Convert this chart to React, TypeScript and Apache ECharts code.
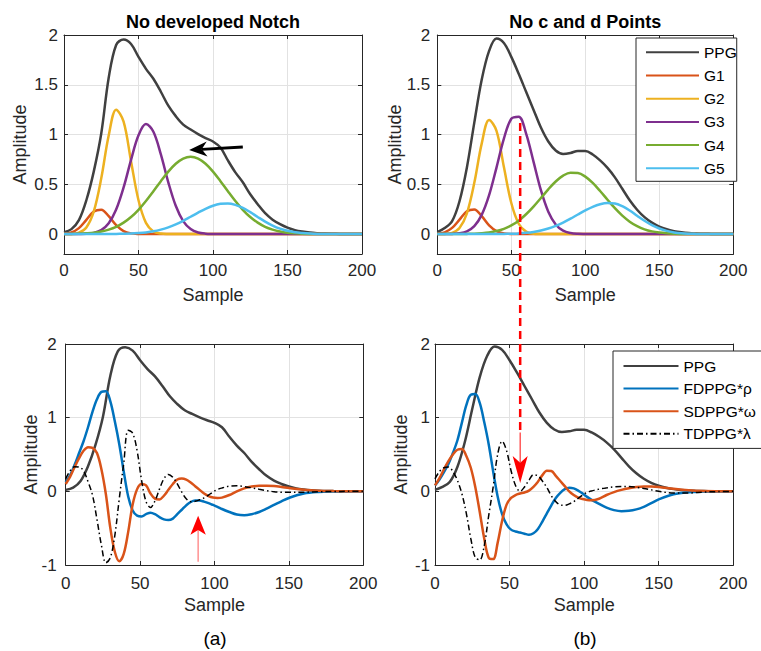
import React, { useEffect, useRef } from "react";
import * as echarts from "echarts";

// Sample positions
const XS = [0,5,10,15,20,25,30,35,40,45,50,55,60,65,70,75,80,85,90,95,100,105,110,115,120,125,130,135,140,145,150,155,160,165,170,175,180,185,190,195,200];
const XD = [0,3,6,9,12,15,18,21,24,27,30,33,36,39,42,45,48,51,54,57,60,63,66,69,72,75,78,81,84,87,90,93,96,99,102,105,110,115,120,125,130,135,140,145,150,160,170,180,190,200];

// (a) No developed notch: PPG and Gaussian components (on XS)
const PPG_A = [0.02,0.05,0.14,0.34,0.63,1.01,1.57,1.9,1.955,1.91,1.78,1.66,1.56,1.43,1.29,1.185,1.10,1.05,1.005,0.965,0.93,0.87,0.74,0.62,0.52,0.40,0.30,0.21,0.145,0.10,0.065,0.04,0.025,0.015,0.009,0.005,0.003,0.002,0.001,0,0];
const G1_A = [0.003,0.017,0.06,0.143,0.227,0.245,0.18,0.089,0.03,0.007,0.001,0,0,0,0,0,0,0,0,0,0,0,0,0,0,0,0,0,0,0,0,0,0,0,0,0,0,0,0,0,0];
const G2_A = [0,0.002,0.014,0.067,0.228,0.56,0.99,1.25,1.13,0.73,0.34,0.113,0.027,0.005,0.001,0,0,0,0,0,0,0,0,0,0,0,0,0,0,0,0,0,0,0,0,0,0,0,0,0,0];
const G3_A = [0,0,0.001,0.003,0.012,0.04,0.109,0.247,0.469,0.746,0.992,1.105,1.028,0.80,0.52,0.284,0.13,0.05,0.016,0.004,0.001,0,0,0,0,0,0,0,0,0,0,0,0,0,0,0,0,0,0,0,0];
const G4_A = [0.001,0.002,0.004,0.008,0.014,0.026,0.045,0.073,0.115,0.171,0.244,0.332,0.43,0.532,0.628,0.707,0.759,0.777,0.759,0.707,0.628,0.532,0.43,0.332,0.244,0.171,0.115,0.073,0.045,0.026,0.014,0.008,0.004,0.002,0.001,0,0,0,0,0,0];
const G5_A = [0,0,0,0,0,0,0.001,0.002,0.003,0.005,0.01,0.017,0.028,0.045,0.068,0.097,0.133,0.174,0.215,0.254,0.285,0.304,0.308,0.294,0.263,0.22,0.172,0.126,0.086,0.055,0.033,0.018,0.01,0.005,0.002,0.001,0,0,0,0,0];

// (b) No c and d points (on XS)
const PPG_B = [0.02,0.06,0.13,0.33,0.67,1.12,1.55,1.84,1.965,1.92,1.78,1.61,1.43,1.25,1.07,0.93,0.84,0.805,0.815,0.835,0.835,0.80,0.74,0.665,0.57,0.455,0.34,0.245,0.17,0.115,0.075,0.048,0.03,0.018,0.01,0.006,0.003,0.002,0.001,0,0];
const G1_B = [0.003,0.018,0.062,0.145,0.23,0.248,0.18,0.088,0.03,0.007,0.001,0,0,0,0,0,0,0,0,0,0,0,0,0,0,0,0,0,0,0,0,0,0,0,0,0,0,0,0,0,0];
const G2_B = [0,0.002,0.013,0.061,0.209,0.515,0.909,1.147,1.038,0.673,0.312,0.104,0.025,0.004,0.001,0,0,0,0,0,0,0,0,0,0,0,0,0,0,0,0,0,0,0,0,0,0,0,0,0,0];
const G3_B = [0,0,0.002,0.008,0.028,0.08,0.193,0.391,0.668,0.959,1.159,1.18,1.01,0.728,0.441,0.225,0.097,0.035,0.011,0.003,0.001,0,0,0,0,0,0,0,0,0,0,0,0,0,0,0,0,0,0,0,0];
const G4_B = [0,0,0,0.001,0.002,0.004,0.009,0.017,0.031,0.053,0.087,0.135,0.199,0.276,0.362,0.45,0.528,0.587,0.617,0.614,0.577,0.514,0.433,0.345,0.26,0.185,0.125,0.08,0.048,0.027,0.015,0.008,0.004,0.002,0.001,0,0,0,0,0,0];
const G5_B = [0,0,0,0,0,0,0,0,0.001,0.002,0.004,0.007,0.013,0.022,0.036,0.056,0.083,0.116,0.155,0.197,0.238,0.274,0.3,0.312,0.308,0.28,0.237,0.185,0.134,0.09,0.056,0.032,0.017,0.008,0.004,0.002,0,0,0,0,0];

// Derivatives (on XD)
const FD_A = [0.12,0.22,0.36,0.52,0.68,0.87,1.08,1.25,1.35,1.36,1.22,0.95,0.64,0.27,-0.07,-0.26,-0.33,-0.34,-0.31,-0.29,-0.31,-0.35,-0.38,-0.39,-0.37,-0.31,-0.25,-0.19,-0.145,-0.125,-0.125,-0.14,-0.16,-0.185,-0.21,-0.24,-0.28,-0.315,-0.325,-0.31,-0.28,-0.235,-0.185,-0.135,-0.09,-0.03,-0.008,-0.002,0,0];
const SD_A = [0.1,0.2,0.33,0.45,0.55,0.6,0.59,0.52,0.3,-0.04,-0.5,-0.82,-0.95,-0.85,-0.55,-0.18,0.03,0.1,0.08,-0.03,-0.1,-0.11,-0.06,0.02,0.1,0.16,0.175,0.16,0.12,0.07,0.02,-0.03,-0.065,-0.085,-0.09,-0.085,-0.05,0.0,0.04,0.065,0.075,0.076,0.072,0.06,0.045,0.02,0.008,0.003,0.001,0];
const TD_A = [0.17,0.28,0.335,0.33,0.28,0.13,-0.05,-0.38,-0.73,-0.97,-0.9,-0.6,-0.1,0.38,0.83,0.79,0.55,0.15,-0.14,-0.22,-0.13,0.03,0.17,0.23,0.19,0.1,-0.01,-0.1,-0.14,-0.135,-0.115,-0.09,-0.05,-0.01,0.025,0.045,0.07,0.075,0.065,0.048,0.028,0.01,-0.005,-0.012,-0.014,-0.012,-0.006,-0.002,0,0];
const FD_B = [0.08,0.16,0.26,0.37,0.52,0.69,0.93,1.17,1.31,1.32,1.2,0.94,0.64,0.27,-0.07,-0.31,-0.45,-0.52,-0.545,-0.56,-0.575,-0.59,-0.57,-0.51,-0.41,-0.3,-0.19,-0.09,-0.02,0.03,0.05,0.04,0.01,-0.03,-0.075,-0.115,-0.17,-0.22,-0.255,-0.27,-0.265,-0.245,-0.21,-0.16,-0.11,-0.04,-0.012,-0.003,0,0];
const SD_B = [0.08,0.18,0.3,0.41,0.5,0.565,0.575,0.48,0.32,0.06,-0.28,-0.64,-0.9,-0.92,-0.7,-0.4,-0.18,-0.09,-0.05,-0.03,-0.015,0.01,0.06,0.13,0.22,0.28,0.275,0.21,0.14,0.07,0.0,-0.05,-0.085,-0.105,-0.118,-0.122,-0.1,-0.05,-0.01,0.02,0.042,0.058,0.066,0.066,0.06,0.034,0.014,0.004,0.001,0];
const TD_B = [0.17,0.27,0.32,0.33,0.27,0.15,-0.03,-0.3,-0.64,-0.9,-0.93,-0.74,-0.33,0.06,0.5,0.68,0.55,0.28,0.08,0.0,0.06,0.15,0.225,0.21,0.14,0.05,-0.06,-0.14,-0.185,-0.19,-0.17,-0.14,-0.095,-0.05,-0.015,0.005,0.03,0.047,0.06,0.067,0.065,0.055,0.04,0.02,0.0,-0.022,-0.022,-0.01,-0.003,0];

const X_TICKS = { min: 0, max: 200, interval: 50 };
const TITLES = ["No developed Notch", "No c and d Points"];
const PANEL_TAGS = ["(a)", "(b)"];
const LEGEND_TOP = ["PPG", "G1", "G2", "G3", "G4", "G5"];
const LEGEND_BOTTOM = ["PPG", "FDPPG*ρ", "SDPPG*ω", "TDPPG*λ"];

const FONT = '"Liberation Sans", Arial, Helvetica, sans-serif';
const AX = "#262626";
const GRIDC = "#e2e2e2";
const COL = {
  ppg: "#404040", g1: "#D95319", g2: "#EDB120", g3: "#7E2F8E", g4: "#77AC30", g5: "#4DBEEE",
  fd: "#0072BD", sd: "#D95319", td: "#000000",
};

const GRIDS = [
  { left: 64, top: 35, width: 298, height: 219 },
  { left: 437.3, top: 35, width: 296, height: 219 },
  { left: 65.7, top: 344, width: 297.6, height: 221 },
  { left: 435, top: 344, width: 298.3, height: 221 },
];
const YCFG: any[] = [
  { min: -0.2, max: 2, nameGap: 35, lm: 6, xlm: 8, xng: 32 },
  { min: -0.2, max: 2, nameGap: 33, lm: 7, xlm: 8, xng: 32 },
  { min: -1, max: 2, interval: 1, nameGap: 26, lm: 9, xlm: 10, xng: 31 },
  { min: -1, max: 2, interval: 1, nameGap: 25, lm: 5, xlm: 10, xng: 31 },
];

function pairs(xs: number[], ys: number[]) {
  return xs.map((x, i) => [x, ys[i]]);
}

function head(tip: number[], tail: number[], L: number, W: number, back: number) {
  const dx = tail[0] - tip[0], dy = tail[1] - tip[1];
  const len = Math.hypot(dx, dy);
  const ux = dx / len, uy = dy / len, px = -uy, py = ux;
  return {
    pts: [
      [tip[0], tip[1]],
      [tip[0] + ux * L + px * W, tip[1] + uy * L + py * W],
      [tip[0] + ux * L * back, tip[1] + uy * L * back],
      [tip[0] + ux * L - px * W, tip[1] + uy * L - py * W],
    ],
    base: [tip[0] + ux * L * back, tip[1] + uy * L * back],
  };
}

export default function App() {
  const ref = useRef<HTMLDivElement>(null);
  useEffect(() => {
    const chart = echarts.init(ref.current!, null, { renderer: "svg" });
    const xAxes: any[] = [];
    const yAxes: any[] = [];
    GRIDS.forEach((_, g) => {
      const c = YCFG[g];
      const common = {
        type: "value", gridIndex: g, min: X_TICKS.min, max: X_TICKS.max, interval: X_TICKS.interval,
        axisLine: { show: true, onZero: false, lineStyle: { color: AX, width: 1 } },
        axisTick: { show: true, inside: true, length: 4, lineStyle: { color: AX, width: 1 } },
      };
      xAxes.push({
        ...common, position: "bottom",
        axisLabel: { show: true, fontSize: 17, color: AX, fontFamily: FONT, margin: c.xlm },
        splitLine: { show: true, lineStyle: { color: GRIDC, width: 1 } },
        name: "Sample", nameLocation: "middle", nameGap: c.xng, nameMoveOverlap: false,
        nameTextStyle: { fontSize: 18, color: AX, fontFamily: FONT },
      });
      xAxes.push({ ...common, position: "top", axisLabel: { show: false }, splitLine: { show: false } });
      const ycommon: any = {
        type: "value", gridIndex: g, min: c.min, max: c.max,
        axisLine: { show: true, onZero: false, lineStyle: { color: AX, width: 1 } },
        axisTick: { show: true, inside: true, length: 4, lineStyle: { color: AX, width: 1 } },
      };
      if (c.interval) ycommon.interval = c.interval;
      yAxes.push({
        ...ycommon, position: "left",
        axisLabel: { show: true, fontSize: 17, color: AX, fontFamily: FONT, margin: c.lm, showMinLabel: !!c.interval },
        splitLine: { show: true, lineStyle: { color: GRIDC, width: 1 } },
        name: "Amplitude", nameLocation: "middle", nameGap: c.nameGap, nameMoveOverlap: false,
        nameTextStyle: { fontSize: 18, color: AX, fontFamily: FONT },
      });
      yAxes.push({ ...ycommon, position: "right", axisLabel: { show: false }, splitLine: { show: false } });
    });

    const mk = (name: string, g: number, xs: number[], ys: number[], color: string, extra: any = {}) => ({
      type: "line", name, xAxisIndex: 2 * g, yAxisIndex: 2 * g,
      data: pairs(xs, ys), symbol: "none", smooth: 0.35, silent: true,
      lineStyle: { width: 2.5, color, ...(extra.lineStyle || {}) },
      itemStyle: { color },
      emphasis: { disabled: true },
      z: 2,
    });
    const tdStyle = { lineStyle: { width: 1.5, type: [6, 3, 1.5, 3] } };

    const series = [
      mk("PPG", 0, XS, PPG_A, COL.ppg), mk("G1", 0, XS, G1_A, COL.g1), mk("G2", 0, XS, G2_A, COL.g2),
      mk("G3", 0, XS, G3_A, COL.g3), mk("G4", 0, XS, G4_A, COL.g4), mk("G5", 0, XS, G5_A, COL.g5),
      mk("PPG", 1, XS, PPG_B, COL.ppg), mk("G1", 1, XS, G1_B, COL.g1), mk("G2", 1, XS, G2_B, COL.g2),
      mk("G3", 1, XS, G3_B, COL.g3), mk("G4", 1, XS, G4_B, COL.g4), mk("G5", 1, XS, G5_B, COL.g5),
      mk("PPG", 2, XS, PPG_A, COL.ppg), mk("FDPPG*ρ", 2, XD, FD_A, COL.fd), mk("SDPPG*ω", 2, XD, SD_A, COL.sd),
      mk("TDPPG*λ", 2, XD, TD_A, COL.td, tdStyle),
      mk("PPG", 3, XS, PPG_B, COL.ppg), mk("FDPPG*ρ", 3, XD, FD_B, COL.fd), mk("SDPPG*ω", 3, XD, SD_B, COL.sd),
      mk("TDPPG*λ", 3, XD, TD_B, COL.td, tdStyle),
    ];

    const legendCommon = {
      orient: "vertical", backgroundColor: "#ffffff", borderColor: AX, borderWidth: 1, borderRadius: 0,
      itemHeight: 14, selectedMode: false,
      textStyle: { fontSize: 15.5, color: "#000", fontFamily: FONT },
      itemStyle: { color: "rgba(0,0,0,0)", borderWidth: 0, opacity: 0 },
    };

    chart.setOption({
      animation: false,
      backgroundColor: "#ffffff",
      grid: GRIDS.map((g) => ({ ...g, containLabel: false, outerBoundsMode: "none", show: false })),
      xAxis: xAxes,
      yAxis: yAxes,
      legend: [
        { ...legendCommon, data: LEGEND_TOP, left: 636, top: 38, itemWidth: 53, itemGap: 7.2, padding: [6.3, 0, 5, 9] },
        { ...legendCommon, data: LEGEND_BOTTOM, left: 613, top: 351, itemWidth: 55, itemGap: 6.6, padding: [7, 40, 6.6, 9.5] },
      ],
      series,
    });

    const P = (si: number, x: number, y: number) => chart.convertToPixel({ seriesIndex: si }, [x, y]) as number[];

    // black arrow (a, top)
    const bTail = P(0, 120, 0.874), bTip = P(0, 84, 0.844);
    const bh = head(bTip, bTail, 18, 7.5, 0.7);
    // red up arrow (a, bottom)
    const rTail = P(12, 89, -0.955), rTip = P(12, 89, -0.33);
    const rh = head(rTip, rTail, 19, 7.7, 0.75);
    // red dashed arrow (b)
    const dTop = P(6, 56, 1.115);
    const dTipY = P(16, 56, 0.114)[1];
    const dMidY = P(16, 56, 0.8)[1];
    const dTip = [dTop[0], dTipY];
    const dh = head(dTip, [dTop[0], dTop[1]], 27, 7.5, 0.75);

    const txt = (text: string, x: number, y: number, size: number, weight = "normal") => ({
      type: "text", x, y, z: 100,
      style: {
        text, fill: "#000", fontSize: size, fontWeight: weight, fontFamily: FONT,
        align: "center", verticalAlign: "middle", textAlign: "center", textVerticalAlign: "middle",
      },
    });
    const c0 = GRIDS[0].left + GRIDS[0].width / 2;
    const c1 = GRIDS[1].left + GRIDS[1].width / 2;

    chart.setOption({
      graphic: [
        txt(TITLES[0], c0, 22, 18, "bold"),
        txt(TITLES[1], c1, 22, 18, "bold"),
        txt(PANEL_TAGS[0], 215, 638, 19),
        txt(PANEL_TAGS[1], 585, 638, 19),
        { type: "line", z: 100, shape: { x1: bTail[0], y1: bTail[1], x2: bh.base[0], y2: bh.base[1] }, style: { stroke: "#000", lineWidth: 3 } },
        { type: "polygon", z: 100, shape: { points: bh.pts }, style: { fill: "#000" } },
        { type: "line", z: 100, shape: { x1: rTail[0], y1: rTail[1], x2: rh.base[0], y2: rh.base[1] }, style: { stroke: "#ff8080", lineWidth: 1.3 } },
        { type: "polygon", z: 100, shape: { points: rh.pts }, style: { fill: "#ff0000" } },
        { type: "line", z: 100, shape: { x1: dTop[0], y1: dTop[1], x2: dTop[0], y2: dMidY }, style: { stroke: "#ff0000", lineWidth: 2.5, lineDash: [8, 5] } },
        { type: "line", z: 100, shape: { x1: dTop[0], y1: dMidY, x2: dh.base[0], y2: dh.base[1] }, style: { stroke: "#ff3030", lineWidth: 1.2 } },
        { type: "polygon", z: 100, shape: { points: dh.pts }, style: { fill: "#ff0000" } },
      ],
    });

    return () => chart.dispose();
  }, []);
  return <div ref={ref} style={{ position: "fixed", left: 0, top: 0, width: 761, height: 651 }} />;
}
